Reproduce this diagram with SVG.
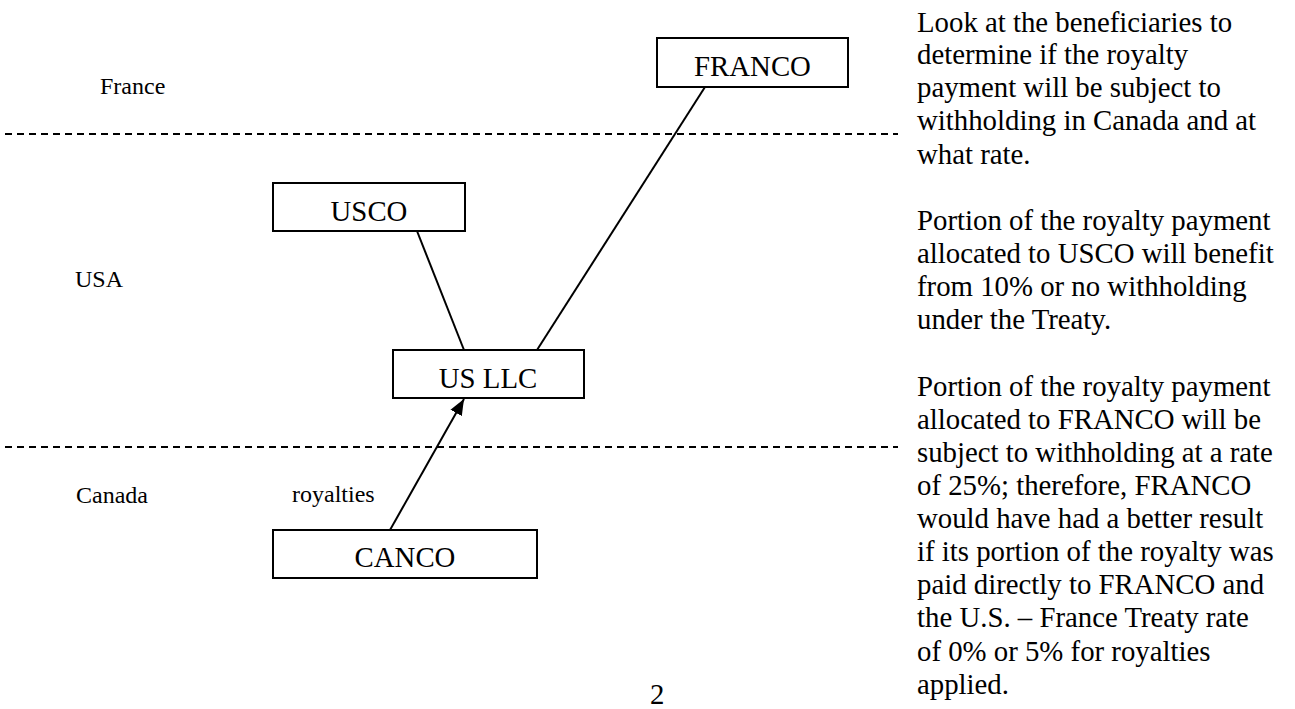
<svg xmlns="http://www.w3.org/2000/svg" width="1295" height="709" viewBox="0 0 1295 709">
<style>
  .box { fill: #ffffff; stroke: #000000; stroke-width: 2; }
  .lbl { font-family: "Liberation Serif", "Times New Roman", serif; font-size: 28.8px; fill: #000000; }
  .reg { font-family: "Liberation Serif", "Times New Roman", serif; font-size: 24px; fill: #000000; }
  .dash { stroke: #000000; stroke-width: 2; stroke-dasharray: 7 5; fill: none; }
  .conn { stroke: #000000; stroke-width: 2; fill: none; }
</style>
<defs>
  <marker id="arrow" markerUnits="userSpaceOnUse" markerWidth="17" markerHeight="14" refX="16" refY="7" orient="auto">
    <path d="M0,0.5 L16,7 L0,13.5 z" fill="#000000"/>
  </marker>
</defs>
<rect width="1295" height="709" fill="#ffffff"/>

<g id="borders">
  <line class="dash" x1="5" y1="134" x2="898" y2="134"/>
  <line class="dash" x1="5" y1="447" x2="898" y2="447"/>
</g>

<g id="regions">
  <text class="reg" x="100" y="94">France</text>
  <text class="reg" x="75" y="287">USA</text>
  <text class="reg" x="76" y="503">Canada</text>
</g>

<g id="connectors">
  <line class="conn" x1="417" y1="231" x2="464" y2="350"/>
  <line class="conn" x1="705" y1="87" x2="537" y2="350"/>
  <line class="conn" x1="390" y1="530" x2="464" y2="399" marker-end="url(#arrow)"/>
  <text class="reg" x="292" y="502">royalties</text>
</g>

<g id="franco">
  <rect class="box" x="657" y="38" width="191" height="49"/>
  <text class="lbl" x="752.5" y="76" text-anchor="middle">FRANCO</text>
</g>
<g id="usco">
  <rect class="box" x="273" y="183" width="192" height="48"/>
  <text class="lbl" x="369" y="221" text-anchor="middle">USCO</text>
</g>
<g id="usllc">
  <rect class="box" x="393" y="350" width="191" height="48"/>
  <text class="lbl" x="488" y="388" text-anchor="middle">US LLC</text>
</g>
<g id="canco">
  <rect class="box" x="273" y="530" width="264" height="48"/>
  <text class="lbl" x="405" y="567" text-anchor="middle">CANCO</text>
</g>

<g id="notes">
  <text class="lbl">
    <tspan x="917" y="32">Look at the beneficiaries to</tspan>
    <tspan x="917" y="64">determine if the royalty</tspan>
    <tspan x="917" y="97">payment will be subject to</tspan>
    <tspan x="917" y="130">withholding in Canada and at</tspan>
    <tspan x="917" y="164">what rate.</tspan>
    <tspan x="917" y="230">Portion of the royalty payment</tspan>
    <tspan x="917" y="263">allocated to USCO will benefit</tspan>
    <tspan x="917" y="296">from 10% or no withholding</tspan>
    <tspan x="917" y="329">under the Treaty.</tspan>
    <tspan x="917" y="396">Portion of the royalty payment</tspan>
    <tspan x="917" y="429">allocated to FRANCO will be</tspan>
    <tspan x="917" y="462">subject to withholding at a rate</tspan>
    <tspan x="917" y="495">of 25%; therefore, FRANCO</tspan>
    <tspan x="917" y="528">would have had a better result</tspan>
    <tspan x="917" y="561">if its portion of the royalty was</tspan>
    <tspan x="917" y="594">paid directly to FRANCO and</tspan>
    <tspan x="917" y="627">the U.S. – France Treaty rate</tspan>
    <tspan x="917" y="661">of 0% or 5% for royalties</tspan>
    <tspan x="917" y="694">applied.</tspan>
  </text>
</g>

<g id="page">
  <text class="lbl" x="650" y="704">2</text>
</g>
</svg>
